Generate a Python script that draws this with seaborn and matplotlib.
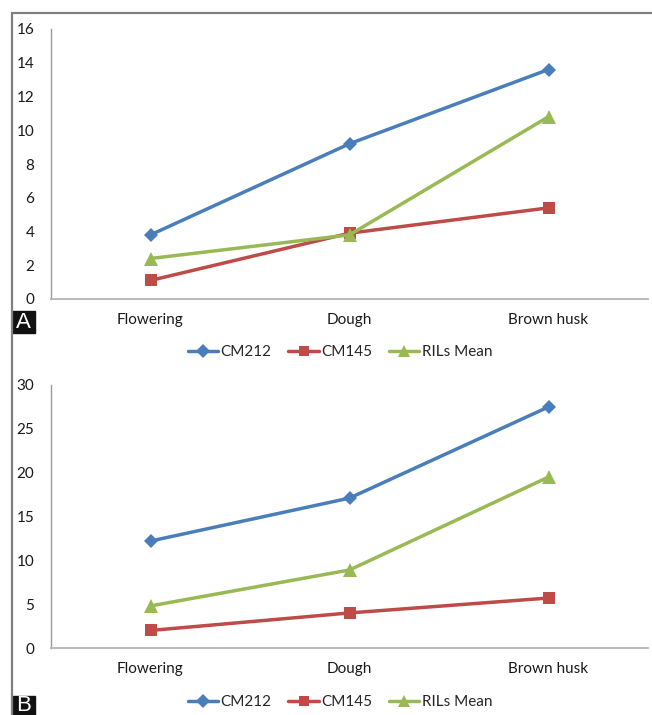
import pandas as pd
import matplotlib
matplotlib.use("Agg")
import matplotlib.pyplot as plt
import seaborn as sns
from matplotlib.lines import Line2D
from matplotlib.patches import Rectangle

stages = ["Flowering", "Dough", "Brown husk"]
series_names = ["CM212", "CM145", "RILs Mean"]

# panel A
a_cm212 = [3.8, 9.2, 13.6]
a_cm145 = [1.1, 3.9, 5.4]
a_rils = [2.4, 3.8, 10.8]

# panel B
b_cm212 = [12.2, 17.1, 27.5]
b_cm145 = [2.0, 4.0, 5.7]
b_rils = [4.8, 8.9, 19.5]

a_ticks = list(range(0, 17, 2))
b_ticks = list(range(0, 31, 5))

colors = {"CM212": "#4A7EBB", "CM145": "#BE4B48", "RILs Mean": "#98B954"}
markers = {"CM212": "D", "CM145": "s", "RILs Mean": "^"}
sizes = {"CM212": 7.5, "CM145": 8.5, "RILs Mean": 9.5}


def to_long(vals):
    rows = []
    for name, v in zip(series_names, vals):
        for st, y in zip(stages, v):
            rows.append({"Stage": st, "Value": y, "Series": name})
    return pd.DataFrame(rows)


sns.set_theme(style="white")
plt.rcParams["font.family"] = ["Lato", "DejaVu Sans"]

W, H = 652, 715
fig = plt.figure(figsize=(W / 100, H / 100), dpi=100)


def px_axes(left, top, right, bottom):
    return fig.add_axes([left / W, 1 - bottom / H, (right - left) / W, (bottom - top) / H])


def draw_panel(ax, df, ticks, legend_y):
    for name in series_names:
        sub = df[df["Series"] == name]
        sns.lineplot(data=sub, x="Stage", y="Value", ax=ax, sort=False,
                     color=colors[name], marker=markers[name],
                     markersize=sizes[name], markeredgewidth=0,
                     linewidth=2.5, label=name)
    ax.set_xlim(-0.5, 2.5)
    ax.set_ylim(ticks[0], ticks[-1])
    ax.set_yticks(ticks)
    ax.set_xlabel("")
    ax.set_ylabel("")
    ax.tick_params(axis="both", length=0, labelsize=11, colors="#1a1a1a")
    ax.tick_params(axis="x", pad=10)
    ax.tick_params(axis="y", pad=12)
    sns.despine(ax=ax)
    ax.spines["left"].set_color("#9a9a9a")
    ax.spines["bottom"].set_color("#b5b5b5")
    ax.spines["left"].set_linewidth(1.0)
    ax.spines["bottom"].set_linewidth(1.3)
    handles = [Line2D([0], [0], color=colors[n], marker=markers[n],
                      markersize=sizes[n] * 0.9, markeredgewidth=0, linewidth=2.5)
               for n in series_names]
    ax.legend(handles, series_names, loc="center", bbox_to_anchor=(0.484, legend_y),
              ncol=3, frameon=False, fontsize=11, handlelength=2.0,
              handletextpad=0.15, columnspacing=1.1)


ax_a = px_axes(51, 29, 648, 299)
draw_panel(ax_a, to_long([a_cm212, a_cm145, a_rils]), a_ticks, -0.196)

ax_b = px_axes(51, 385, 648, 648)
draw_panel(ax_b, to_long([b_cm212, b_cm145, b_rils]), b_ticks, -0.205)

# outer frame (left and top edges)
fig.add_artist(Line2D([12 / W, 12 / W], [0, 1 - 13 / H], transform=fig.transFigure,
                      color="#808080", linewidth=1.6))
fig.add_artist(Line2D([12 / W, 1], [1 - 13 / H, 1 - 13 / H], transform=fig.transFigure,
                      color="#808080", linewidth=1.6))

# panel letters
for letter, top, bottom in [("A", 311, 333), ("B", 696, 715)]:
    fig.add_artist(Rectangle((12 / W, 1 - bottom / H), 23 / W, (bottom - top) / H,
                             transform=fig.transFigure, color="#111111"))
    fig.text(23.5 / W, 1 - (top + bottom) / 2 / H, letter, color="white",
             fontsize=16, ha="center", va="center", family=["Liberation Sans", "DejaVu Sans"])

fig.savefig("out.png", dpi=100)
